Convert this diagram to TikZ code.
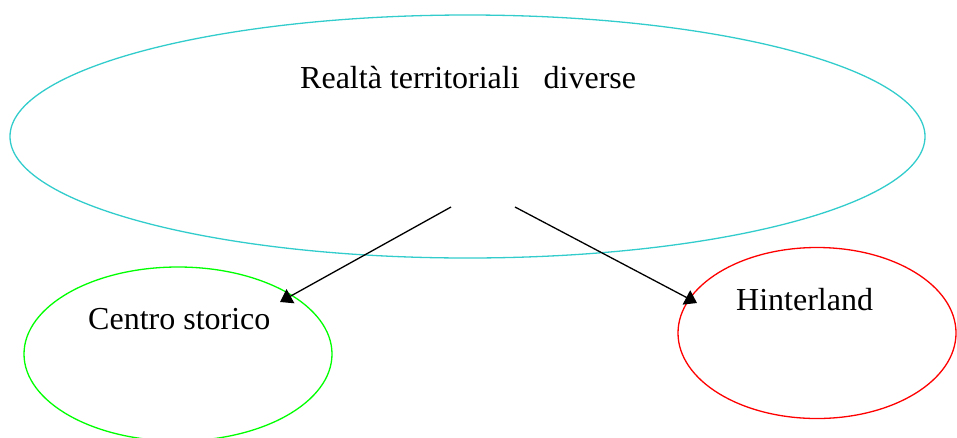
\documentclass[tikz,border=0pt]{standalone}
\usepackage{fontspec}
\setmainfont{Liberation Serif}
\usetikzlibrary{arrows.meta,shapes.geometric}
\definecolor{tealline}{RGB}{51,204,204}

\begin{document}
\begin{tikzpicture}[
    x=1pt, y=-1pt,
    area/.style={draw,ellipse,inner sep=0pt,line width=1.3pt},
    label/.style={anchor=base west,inner sep=0pt,font=\fontsize{32}{38}\selectfont},
    arrow/.style={-{Triangle[length=12pt,width=16pt]},line width=1.3pt}
  ]
    \useasboundingbox (0,0) rectangle (957,437);
    \clip (0,0) rectangle (957,437);
    % the three areas
    \node[area,tealline,minimum width=915pt,minimum height=243pt] (realta) at (467.5,136.5) {};
    \node[area,green,minimum width=308pt,minimum height=174pt] (centro) at (178,354) {};
    \node[area,red,minimum width=278pt,minimum height=171pt] (hinter) at (817,333) {};
    % labels
    \node[label] (realtatxt) at (300,88) {Realtà territoriali\ \ \ diverse};
    \node[label] (centrotxt) at (88,329) {Centro storico};
    \node[label] (hintertxt) at (736,310) {Hinterland};
    % arrows
    \coordinate (fromleft) at (451,207);
    \coordinate (fromright) at (515,207);
    \coordinate (toleft) at (280,302);
    \coordinate (toright) at (697,303);
    \draw[arrow] (fromleft) -- (toleft);
    \draw[arrow] (fromright) -- (toright);
\end{tikzpicture}
\end{document}
